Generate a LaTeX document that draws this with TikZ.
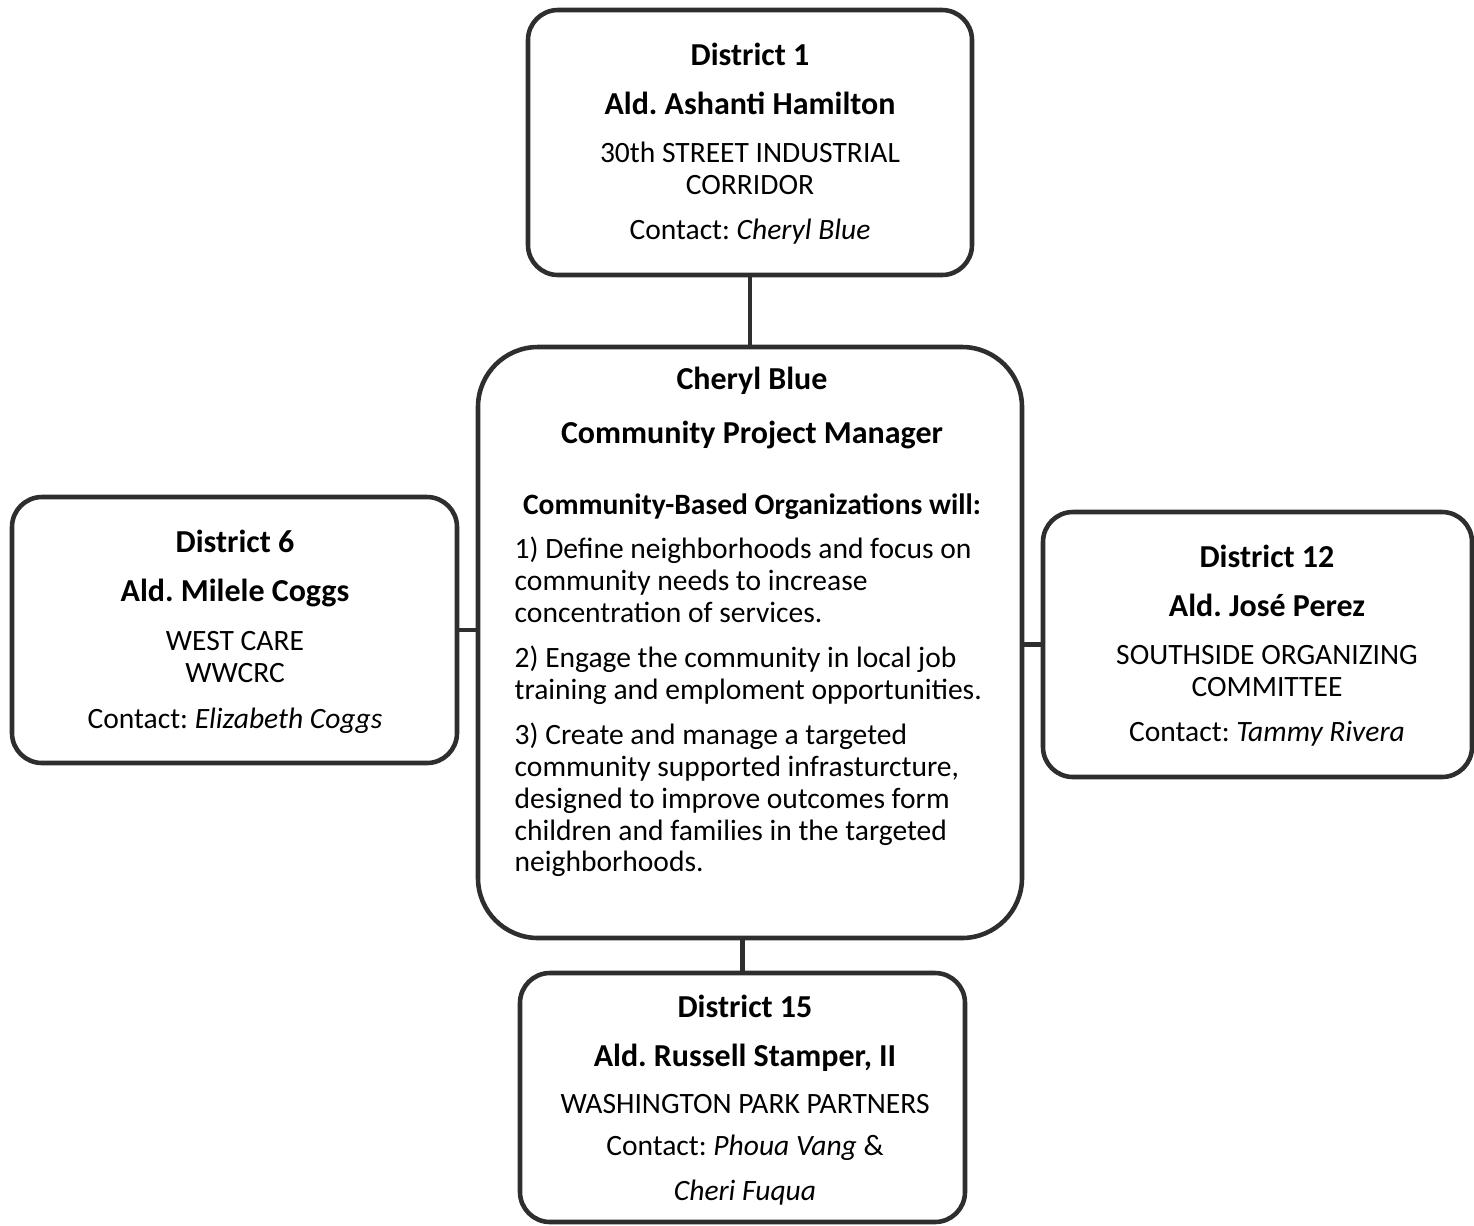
\documentclass[tikz,border=0pt]{standalone}
\usepackage{fontspec}
\setmainfont{Carlito}
\usetikzlibrary{positioning}
\frenchspacing
\tikzset{
  box/.style={draw=black!82, line width=1.3pt, rounded corners=0.3cm, inner sep=0pt},
  head/.style={anchor=mid, inner sep=0pt, font=\fontsize{9.1}{11}\selectfont\bfseries},
  txt/.style={anchor=mid, inner sep=0pt, font=\fontsize{8.4}{10}\selectfont},
  line/.style={draw=black!82, line width=1.3pt}
}

\begin{document}
\begin{tikzpicture}
  \useasboundingbox (0,0) rectangle (14.74,-12.26);

  % boxes
  \node [box, minimum width=4.44cm, minimum height=2.65cm] (d1) at (7.50,-1.425) {};
  \node [box, rounded corners=0.6cm, minimum width=5.44cm, minimum height=5.91cm] (mgr) at (7.50,-6.425) {};
  \node [box, minimum width=4.45cm, minimum height=2.66cm] (d6) at (2.345,-6.30) {};
  \node [box, minimum width=4.29cm, minimum height=2.65cm] (d12) at (12.575,-6.445) {};
  \node [box, minimum width=4.45cm, minimum height=2.49cm] (d15) at (7.425,-10.975) {};

  % connectors
  \draw [line] (d1) -- (mgr);
  \draw [line] (d6.east) -- (d6.east -| mgr.west);
  \draw [line] (d12.west) -- (d12.west -| mgr.east);
  \draw [line] (d15.north) -- (d15.north |- mgr.south);

  % District 1
  \node [head] (d1-a) at (7.50,-0.57) {District 1};
  \node [head] (d1-b) at (7.50,-1.06) {Ald. Ashanti Hamilton};
  \node [txt] (d1-c) at (7.50,-1.54) {30th STREET INDUSTRIAL};
  \node [txt] (d1-d) at (7.50,-1.86) {CORRIDOR};
  \node [txt] (d1-e) at (7.50,-2.31) {Contact: \textit{Cheryl Blue}};

  % manager
  \node [head] (mgr-a) at (7.52,-3.81) {Cheryl Blue};
  \node [head] (mgr-b) at (7.52,-4.35) {Community Project Manager};
  \node [txt, font=\fontsize{8.4}{10}\selectfont\bfseries] (mgr-c) at (7.52,-5.06) {Community-Based Organizations will:};
  \foreach \i/\y/\t in {1/5.50/{1) Define neighborhoods and focus on},
      2/5.82/{community needs to increase},
      3/6.14/{concentration of services.},
      4/6.59/{2) Engage the community in local job},
      5/6.91/{training and emploment opportunities.},
      6/7.36/{3) Create and manage a targeted},
      7/7.68/{community supported infrasturcture,},
      8/8.00/{designed to improve outcomes form},
      9/8.32/{children and families in the targeted},
      10/8.63/{neighborhoods.}}
    \node [txt, anchor=mid west] (mgr-l\i) at (5.14,-\y) {\t};

  % District 6
  \node [head] (d6-a) at (2.35,-5.44) {District 6};
  \node [head] (d6-b) at (2.35,-5.93) {Ald. Milele Coggs};
  \node [txt] (d6-c) at (2.35,-6.42) {WEST CARE};
  \node [txt] (d6-d) at (2.35,-6.74) {WWCRC};
  \node [txt] (d6-e) at (2.35,-7.20) {Contact: \textit{Elizabeth Coggs}};

  % District 12
  \node [head] (d12-a) at (12.67,-5.59) {District 12};
  \node [head] (d12-b) at (12.67,-6.08) {Ald. José Perez};
  \node [txt] (d12-c) at (12.67,-6.56) {SOUTHSIDE ORGANIZING};
  \node [txt] (d12-d) at (12.67,-6.88) {COMMITTEE};
  \node [txt] (d12-e) at (12.67,-7.33) {Contact: \textit{Tammy Rivera}};

  % District 15
  \node [head] (d15-a) at (7.45,-10.09) {District 15};
  \node [head] (d15-b) at (7.45,-10.58) {Ald. Russell Stamper, II};
  \node [txt] (d15-c) at (7.45,-11.05) {WASHINGTON PARK PARTNERS};
  \node [txt] (d15-d) at (7.45,-11.47) {Contact: \textit{Phoua Vang} \&};
  \node [txt] (d15-e) at (7.45,-11.92) {\textit{Cheri Fuqua}};
\end{tikzpicture}
\end{document}
